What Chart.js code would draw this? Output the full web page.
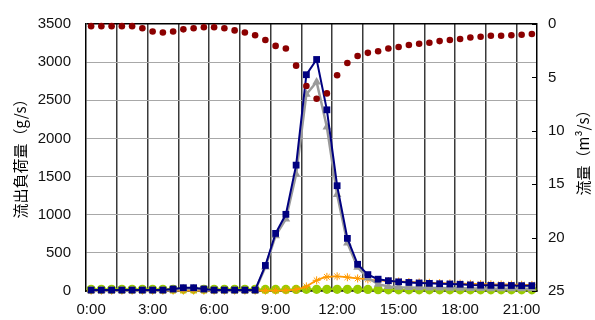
<!DOCTYPE html>
<html>
<head>
<meta charset="utf-8">
<script src="https://cdn.jsdelivr.net/npm/chart.js@4/dist/chart.umd.min.js"></script>
<style>
  html, body { margin: 0; padding: 0; background: #fff; }
  #wrap { width: 595px; height: 320px; }
</style>
</head>
<body>
<div id="wrap"><canvas id="chart" width="595" height="320"></canvas></div>
<script>
// half-hourly samples, 0:00 .. 21:30
const times = [
  "0:00", "0:30", "1:00", "1:30", "2:00", "2:30", "3:00", "3:30", "4:00", "4:30",
  "5:00", "5:30", "6:00", "6:30", "7:00", "7:30", "8:00", "8:30", "9:00", "9:30",
  "10:00", "10:30", "11:00", "11:30", "12:00", "12:30", "13:00", "13:30", "14:00", "14:30",
  "15:00", "15:30", "16:00", "16:30", "17:00", "17:30", "18:00", "18:30", "19:00", "19:30",
  "20:00", "20:30", "21:00", "21:30"
];

// discharge, m3/s (right axis, reversed)
const flow = [
  0.2, 0.2, 0.2, 0.2, 0.2, 0.4, 0.7, 0.8, 0.7, 0.5,
  0.4, 0.3, 0.3, 0.4, 0.6, 0.8, 1.05, 1.5, 2.05, 2.3,
  3.9, 5.8, 7.0, 6.5, 4.8, 3.65, 3.0, 2.7, 2.55, 2.3,
  2.15, 1.97, 1.85, 1.75, 1.6, 1.5, 1.4, 1.27, 1.2, 1.1,
  1.1, 1.05, 1.0, 0.93
];

// load series, g/s (left axis)
const loadBlue = [
  12, 12, 12, 12, 12, 12, 12, 12, 26, 43,
  43, 26, 12, 12, 12, 12, 12, 335, 755, 1005,
  1650, 2835, 3035, 2375, 1380, 690, 350, 215, 155, 135,
  120, 112, 105, 100, 95, 92, 88, 80, 76, 74,
  72, 72, 70, 70
];
const loadGray = [
  8, 8, 8, 8, 8, 8, 8, 8, 18, 30,
  30, 18, 8, 8, 8, 8, 8, 315, 725, 945,
  1530, 2580, 2740, 2150, 1265, 630, 310, 170, 90, 60,
  50, 45, 42, 40, 38, 36, 35, 33, 32, 31,
  30, 30, 30, 30
];
const loadOrange = [
  5, 5, 5, 5, 5, 5, 5, 5, 5, 5,
  5, 5, 5, 5, 5, 5, 5, 5, 5, 8,
  20, 60, 140, 185, 192, 180, 165, 152, 138, 130,
  125, 118, 112, 108, 104, 100, 97, 94, 90, 88,
  86, 84, 82, 80
];
const loadGreen = [
  22, 22, 22, 22, 22, 22, 22, 22, 22, 22,
  22, 22, 22, 22, 22, 22, 22, 20, 20, 20,
  20, 22, 22, 22, 22, 22, 22, 20, 18, 16,
  15, 15, 15, 15, 15, 15, 15, 15, 15, 15,
  15, 15, 15, 15
];

const leftTitle = "流出負荷量（g/s）";
const rightTitle = "流量（m³/s）";

const tickFont = { family: "'Liberation Sans', Arial, sans-serif", size: 15 };

// rotated axis titles plus the short inward ticks on the right axis
const decorations = {
  id: "decorations",
  afterDraw(chart) {
    const { ctx, chartArea } = chart;
    ctx.save();
    ctx.fillStyle = "#000";
    ctx.font = "15px 'Noto Sans CJK JP', sans-serif";
    ctx.textAlign = "center";
    ctx.textBaseline = "middle";
    const title = (text, x, y) => {
      ctx.save();
      ctx.translate(x, y);
      ctx.rotate(-Math.PI / 2);
      ctx.fillText(text, 0, 0);
      ctx.restore();
    };
    title(leftTitle, chartArea.left - 66, 155);
    title(rightTitle, chartArea.right + 46, 149);

    const y1 = chart.scales.y1;
    ctx.strokeStyle = "#000";
    ctx.lineWidth = 1;
    y1.ticks.forEach((t) => {
      const y = Math.round(y1.getPixelForValue(t.value)) + 0.5;
      ctx.beginPath();
      ctx.moveTo(chartArea.right - 5, y);
      ctx.lineTo(chartArea.right, y);
      ctx.stroke();
    });
    ctx.restore();
  }
};

// markers near zero spill below the axis, so no clipping
const markerClip = false;

new Chart(document.getElementById("chart"), {
  type: "line",
  data: {
    labels: times,
    datasets: [
      {
        label: "流量",
        data: flow,
        yAxisID: "y1",
        showLine: false,
        clip: markerClip,
        pointStyle: "circle",
        pointRadius: 3.3,
        pointBackgroundColor: "#8b0000",
        pointBorderColor: "#8b0000",
        pointBorderWidth: 0
      },
      {
        label: "load 1",
        data: loadBlue,
        yAxisID: "y",
        clip: markerClip,
        borderColor: "#000080",
        borderWidth: 2,
        pointStyle: "rect",
        pointRadius: 4.8,
        pointBackgroundColor: "#000080",
        pointBorderColor: "#000080",
        pointBorderWidth: 0
      },
      {
        label: "load 2",
        data: loadGray,
        yAxisID: "y",
        clip: markerClip,
        borderColor: "#9a9a9a",
        borderWidth: 2.5,
        pointStyle: "triangle",
        pointRadius: 5,
        pointBackgroundColor: "#9a9a9a",
        pointBorderColor: "#9a9a9a",
        pointBorderWidth: 0
      },
      {
        label: "load 3",
        data: loadOrange,
        yAxisID: "y",
        clip: markerClip,
        borderColor: "#ff9900",
        borderWidth: 1.8,
        cubicInterpolationMode: "monotone",
        pointStyle: "star",
        pointRadius: 4,
        pointBackgroundColor: "#ff9900",
        pointBorderColor: "#ff9900",
        pointBorderWidth: 1
      },
      {
        label: "load 4",
        data: loadGreen,
        yAxisID: "y",
        clip: markerClip,
        borderColor: "#99cc00",
        borderWidth: 2,
        pointStyle: "circle",
        pointRadius: 4.6,
        pointBackgroundColor: "#99cc00",
        pointBorderColor: "#99cc00",
        pointBorderWidth: 0
      }
    ]
  },
  options: {
    responsive: false,
    animation: false,
    layout: { padding: { top: 21, left: 0, right: 0, bottom: 0 } },
    plugins: {
      legend: { display: false },
      tooltip: { enabled: false }
    },
    scales: {
      x: {
        type: "category",
        offset: true,
        grid: {
          offset: true,
          drawTicks: false,
          lineWidth: 1.5,
          color: (c) => (c.index > 0 && c.index % 3 === 0 ? "#3a3a3a" : "rgba(0,0,0,0)")
        },
        border: { display: true, color: "#000", width: 1.5 },
        ticks: {
          autoSkip: false,
          maxRotation: 0,
          minRotation: 0,
          padding: 10,
          color: "#111",
          font: tickFont,
          callback: (v, i) => (i % 6 === 0 ? times[i] : "")
        },
        afterFit: (s) => { s.height = 29; }
      },
      y: {
        position: "left",
        min: 0,
        max: 3500,
        ticks: {
          stepSize: 500,
          padding: 15,
          color: "#111",
          font: tickFont,
          callback: (v) => String(v)
        },
        grid: {
          drawTicks: false,
          lineWidth: (c) => (c.tick && c.tick.value === 3500 ? 1.5 : 1),
          color: (c) => (c.tick && c.tick.value === 3500 ? "#000" : "#a8a8a8")
        },
        border: { display: true, color: "#000", width: 1.5 },
        afterFit: (s) => { s.width = 86; }
      },
      y1: {
        position: "right",
        reverse: true,
        min: 0,
        max: 25,
        ticks: {
          stepSize: 5,
          padding: 11,
          color: "#111",
          font: tickFont,
          callback: (v) => String(v)
        },
        grid: { drawOnChartArea: false, drawTicks: false },
        border: { display: true, color: "#000", width: 1.5 },
        afterFit: (s) => { s.width = 58; }
      }
    }
  },
  plugins: [decorations]
});
</script>
</body>
</html>
